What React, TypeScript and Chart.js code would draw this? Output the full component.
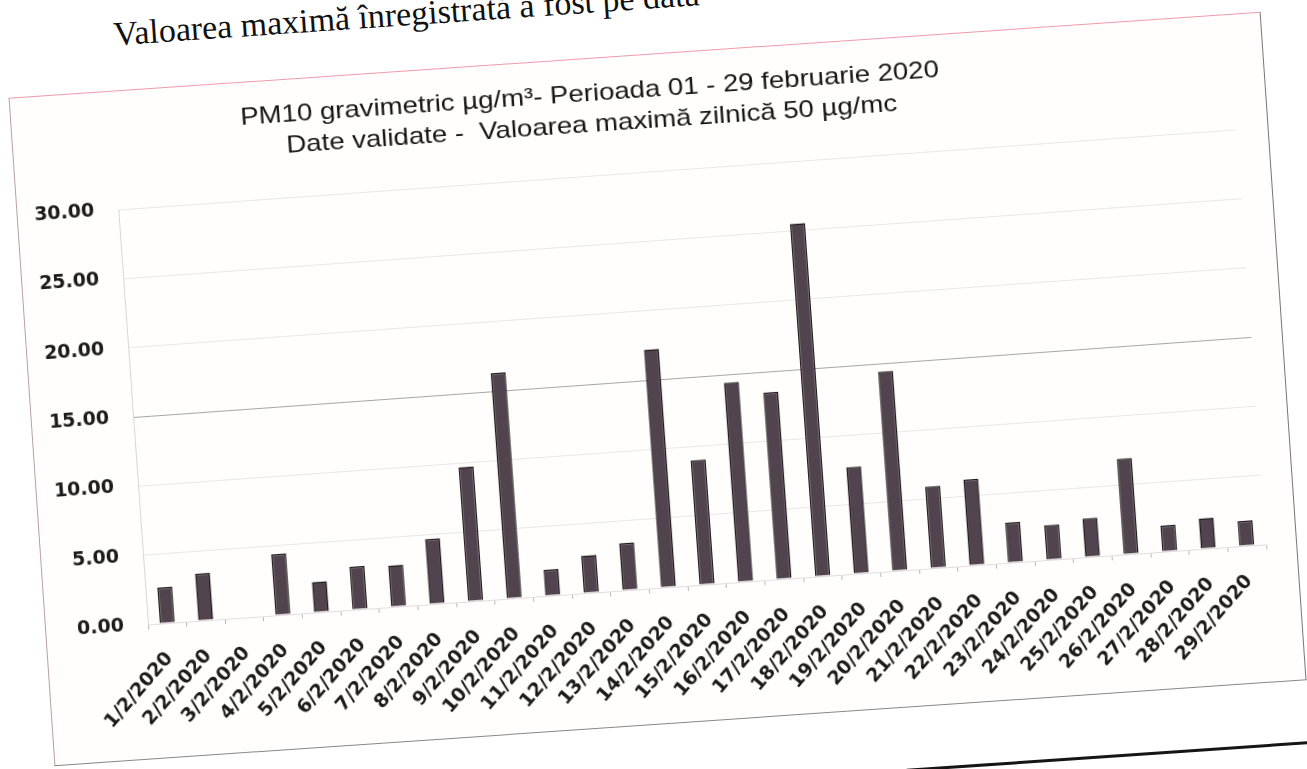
import React, { useEffect, useRef } from "react";
import { Chart, registerables } from "chart.js";

Chart.register(...registerables);

// ---- data ----
const categories: string[] = [
  "1/2/2020", "2/2/2020", "3/2/2020", "4/2/2020", "5/2/2020", "6/2/2020", "7/2/2020",
  "8/2/2020", "9/2/2020", "10/2/2020", "11/2/2020", "12/2/2020", "13/2/2020", "14/2/2020",
  "15/2/2020", "16/2/2020", "17/2/2020", "18/2/2020", "19/2/2020", "20/2/2020", "21/2/2020",
  "22/2/2020", "23/2/2020", "24/2/2020", "25/2/2020", "26/2/2020", "27/2/2020", "28/2/2020",
  "29/2/2020",
];

const pm10Values: (number | null)[] = [
  2.6, 3.4, null, 4.4, 2.2, 3.1, 3.0, 4.7, 9.7, 16.3,
  1.9, 2.7, 3.4, 17.2, 9.0, 14.4, 13.5, 25.5, 7.7, 14.4,
  5.9, 6.2, 2.9, 2.5, 2.8, 6.9, 1.9, 2.2, 1.8,
];

const yMin = 0;
const yMax = 30;
const yStep = 5;
const highlightedGridValue = 15;

const titleLines: string[] = [
  "PM10 gravimetric µg/m³- Perioada 01 - 29 februarie 2020",
  "Date validate -  Valoarea maximă zilnică 50 µg/mc",
];

const pageText = "Valoarea maximă înregistrată a fost pe data";

// ---- component ----
export default function App() {
  const canvasRef = useRef<HTMLCanvasElement | null>(null);

  useEffect(() => {
    const canvas = canvasRef.current;
    if (!canvas) return;
    const tickFont = { family: "'DejaVu Sans', sans-serif", weight: "bold" as const, size: 19 };
    const chart = new Chart(canvas, {
      type: "bar",
      data: {
        labels: categories,
        datasets: [
          {
            data: pm10Values,
            backgroundColor: "#52444e",
            borderColor: "#1f1a1d",
            borderWidth: 1.5,
            barPercentage: 0.39,
            categoryPercentage: 1,
          },
        ],
      },
      options: {
        responsive: false,
        animation: false,
        layout: { padding: { left: 0, right: 30, top: 118, bottom: 0 } },
        plugins: {
          legend: { display: false },
          title: { display: false },
          tooltip: { enabled: false },
        },
        scales: {
          x: {
            grid: {
              drawOnChartArea: false,
              drawTicks: true,
              tickLength: 5,
              color: "#bdb5b8",
              offset: true,
            },
            border: { display: true, color: "#e4dcdf" },
            ticks: {
              autoSkip: false,
              maxRotation: 45,
              minRotation: 45,
              padding: 19,
              color: "#1b1b1b",
              font: tickFont,
            },
            afterFit: (s: any) => {
              s.height = 134;
            },
          },
          y: {
            min: yMin,
            max: yMax,
            ticks: {
              stepSize: yStep,
              padding: 24,
              color: "#1b1b1b",
              font: tickFont,
              callback: (v: any) => Number(v).toFixed(2),
            },
            grid: {
              drawTicks: false,
              color: (ctx: any) =>
                ctx.tick && ctx.tick.value === highlightedGridValue ? "#a9a5a6" : "#ebe6e7",
            },
            border: { color: "#ddd3d6" },
            afterFit: (s: any) => {
              s.width = 102;
            },
          },
        },
      },
    } as any);
    return () => chart.destroy();
  }, []);

  return (
    <div
      style={{
        position: "fixed",
        left: 0,
        top: 0,
        width: 1307,
        height: 769,
        overflow: "hidden",
        background: "#ffffff",
      }}
    >
      <div
        style={{
          position: "absolute",
          left: 0,
          top: 0,
          width: 1307,
          height: 769,
          transform: "rotate(-3.93deg)",
          transformOrigin: "657px 388.5px",
        }}
      >
        <div
          style={{
            position: "absolute",
            left: 139,
            top: -19,
            fontFamily: "'Liberation Serif', 'Times New Roman', serif",
            fontSize: 34,
            lineHeight: "34px",
            whiteSpace: "nowrap",
            color: "#111",
          }}
        >
          {pageText}
        </div>
        <div
          style={{
            position: "absolute",
            left: 880,
            top: 785,
            width: 520,
            height: 3,
            background: "#151515",
          }}
        />
        <div
          style={{
            position: "absolute",
            left: 29.5,
            top: 53.5,
            width: 1255,
            height: 670,
            boxSizing: "border-box",
            borderTop: "1px solid #f09aae",
            borderLeft: "1px solid #b8a0a8",
            borderRight: "1.5px solid #7a7478",
            borderBottom: "1.5px solid #888",
            background: "#fffefd",
          }}
        >
          <canvas
            ref={canvasRef}
            width={1253}
            height={668}
            style={{
              position: "absolute",
              left: 0,
              top: 0,
              width: 1253,
              height: 668,
              transform: "rotate(-0.17deg)",
              transformOrigin: "122px 534px",
            }}
          />
          {titleLines.map((line, i) => (
            <div
              key={i}
              style={{
                position: "absolute",
                left: 579,
                top: i === 0 ? 22 : 53,
                fontFamily: "'Liberation Sans', Arial, sans-serif",
                fontSize: 24,
                lineHeight: "24px",
                whiteSpace: "pre",
                color: "#151515",
                transform: "translateX(-50%) scaleX(1.15)",
              }}
            >
              {line}
            </div>
          ))}
        </div>
      </div>
    </div>
  );
}
